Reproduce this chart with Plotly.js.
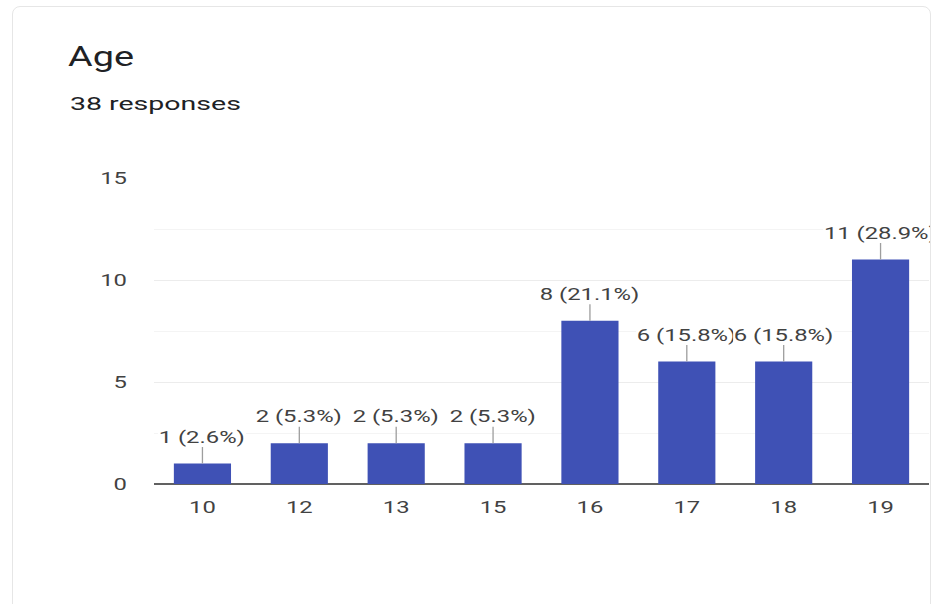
<!DOCTYPE html>
<html>
<head>
<meta charset="utf-8">
<script src="https://cdn.plot.ly/plotly-3.0.1.min.js"></script>
<style>
  html, body { margin: 0; padding: 0; background: #ffffff; width: 945px; height: 604px; overflow: hidden; }
  #card { position: absolute; left: 12px; top: 6px; width: 917px; height: 640px; border: 1px solid #e6e6e6; border-radius: 8px; }
  #chart { position: absolute; left: 0; top: 0; width: 930px; height: 604px; overflow: hidden; }
</style>
</head>
<body>
<div id="card"></div>
<div id="chart"></div>
<script>
const ages = ['10', '12', '13', '15', '16', '17', '18', '19'];
const counts = [1, 2, 2, 2, 8, 6, 6, 11];
const percents = ['2.6%', '5.3%', '5.3%', '5.3%', '21.1%', '15.8%', '15.8%', '28.9%'];
const yTicks = [0, 5, 10, 15];

const W = 930, H = 604;
const margin = { l: 154, r: 1, t: 178, b: 120 };
const plotW = W - margin.l - margin.r;
const plotH = H - margin.t - margin.b;
const STRETCH = 1.4;
const FONT = 'Roboto, Arial, sans-serif';

const idx = ages.map((a, i) => i);

const trace = {
  type: 'bar',
  x: idx,
  y: counts,
  marker: { color: '#3f51b5' },
  hoverinfo: 'skip'
};

const labelAnns = idx.map(i => ({
  x: i,
  y: counts[i],
  xref: 'x',
  yref: 'y',
  text: counts[i] + ' (' + percents[i] + ')',
  showarrow: true,
  arrowhead: 0,
  arrowwidth: 1.3,
  arrowcolor: '#9e9e9e',
  ax: 0,
  ay: -27,
  bgcolor: '#ffffff',
  borderpad: 0,
  font: { family: FONT, size: 17, color: '#424242' }
}));

const layout = {
  width: W,
  height: H,
  margin: margin,
  paper_bgcolor: 'rgba(0,0,0,0)',
  plot_bgcolor: '#ffffff',
  showlegend: false,
  bargap: 0.41,
  title: {
    text: 'Age',
    xref: 'container', yref: 'container',
    x: 68 / W, xanchor: 'left',
    y: 1 - 57 / H, yanchor: 'middle',
    font: { family: FONT, size: 27, color: '#202124' }
  },
  xaxis: {
    range: [-0.5, ages.length - 0.5],
    tickvals: idx,
    ticktext: ages,
    showgrid: false,
    showline: false,
    zeroline: false,
    ticks: '',
    tickfont: { family: FONT, size: 17, color: '#424242' },
    ticklabelstandoff: 11,
    fixedrange: true
  },
  yaxis: {
    range: [0, 15],
    tickvals: yTicks,
    ticktext: yTicks.map(String),
    showgrid: true,
    gridcolor: '#ececec',
    gridwidth: 1,
    minor: { dtick: 2.5, showgrid: true, gridcolor: '#f4f4f4', gridwidth: 1 },
    zeroline: true,
    zerolinecolor: '#616161',
    zerolinewidth: 1.5,
    showline: false,
    ticks: '',
    ticklabelstandoff: 26,
    tickfont: { family: FONT, size: 17, color: '#424242' },
    fixedrange: true
  },
  annotations: [
    {
      xref: 'paper', yref: 'paper',
      x: (68 - margin.l) / plotW, xanchor: 'left',
      y: 1 + (margin.t - 103) / plotH, yanchor: 'middle',
      text: '38 responses',
      showarrow: false,
      font: { family: FONT, size: 19, color: '#202124' }
    }
  ].concat(labelAnns)
};

function stretchText(gd) {
  const texts = gd.querySelectorAll('svg text');
  texts.forEach(t => {
    const len = t.getComputedTextLength();
    if (!len) return;
    const f = t.textContent === '38 responses' ? 1.5 : STRETCH;
    t.setAttribute('textLength', (len * f).toFixed(2));
    t.setAttribute('lengthAdjust', 'spacingAndGlyphs');
    t.dataset.stretch = f;
    t.dataset.orig = len;
  });
  gd.querySelectorAll('g.annotation').forEach(g => {
    const rect = g.querySelector('rect.bg');
    if (!rect) return;
    const w = parseFloat(rect.getAttribute('width'));
    const x = parseFloat(rect.getAttribute('x')) || 0;
    if (!isFinite(w)) return;
    rect.setAttribute('width', (w * STRETCH).toFixed(2));
    rect.setAttribute('x', (x - w * (STRETCH - 1) / 2).toFixed(2));
  });
}

Plotly.newPlot('chart', [trace], layout, { displayModeBar: false, staticPlot: true })
  .then(gd => {
    stretchText(gd);
    // the subtitle is left-anchored visually: keep it starting at x = 68
    const sub = gd.querySelector('g.annotation text');
    if (sub && sub.getAttribute('text-anchor') === 'middle') {
      const len = parseFloat(sub.getAttribute('textLength'));
      const orig = parseFloat(sub.dataset.orig);
      const x = parseFloat(sub.getAttribute('x')) || 0;
      sub.setAttribute('x', (x + (len - orig) / 2).toFixed(2));
    }
  });
</script>
</body>
</html>
